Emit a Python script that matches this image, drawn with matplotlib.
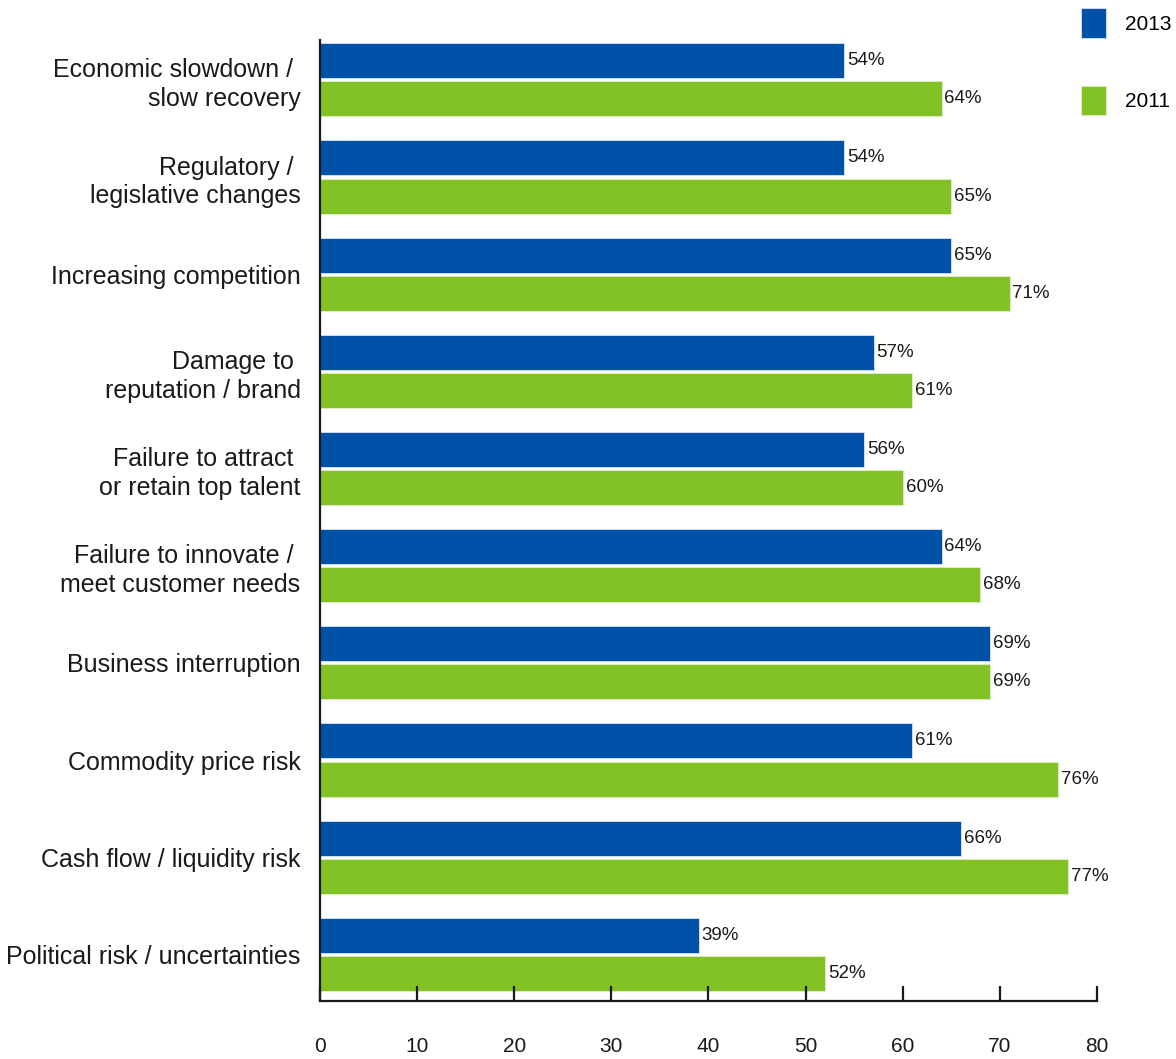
import matplotlib
matplotlib.use('Agg')
from matplotlib import pyplot as plt
import numpy as np

### Data
categories = [
	'Economic slowdown / \nslow recovery',
	'Regulatory / \nlegislative changes',
	'Increasing competition',
	'Damage to \nreputation / brand',
	'Failure to attract \nor retain top talent',
	'Failure to innovate / \nmeet customer needs',
	'Business interruption',
	'Commodity price risk',
	'Cash flow / liquidity risk',
	'Political risk / uncertainties',
]
vals_2013 = [54, 54, 65, 57, 56, 64, 69, 61, 66, 39]
vals_2011 = [64, 65, 71, 61, 60, 68, 69, 76, 77, 52]
xticks = [0, 10, 20, 30, 40, 50, 60, 70, 80]

plt.rcParams['font.family'] = ['Liberation Sans', 'DejaVu Sans']

blue = '#0052A8'
green = '#82C224'
txt = '#1a1a1a'

fig = plt.figure(figsize=(11.76, 10.59), dpi=100)
ax = fig.add_axes([0.2721, 0.0548, 0.6607, 0.9074])

y = np.arange(len(categories))
h = 0.36
off = 0.196
b1 = ax.barh(y - off, vals_2013, height=h, color=blue, edgecolor='#d8e4f0', linewidth=0.6, label='2013')
b2 = ax.barh(y + off, vals_2011, height=h, color=green, edgecolor='#e0efc8', linewidth=0.6, label='2011')

# Value labels at bar ends
for yi, v in zip(y - off, vals_2013):
	ax.text(v + 0.3, yi, f'{v}%', va='center', ha='left', fontsize=13.5, color=txt)
for yi, v in zip(y + off, vals_2011):
	ax.text(v + 0.3, yi, f'{v}%', va='center', ha='left', fontsize=13.5, color=txt)

ax.set_xlim(0, 80)
ax.set_ylim(9.48, -0.41)
ax.set_xticks(xticks)
ax.set_xticklabels([str(t) for t in xticks], fontsize=15, color=txt)
ax.set_yticks(y)
ax.set_yticklabels(categories, fontsize=18, color=txt, linespacing=1.25)

ax.tick_params(axis='y', length=0, pad=14)
ax.tick_params(axis='x', direction='in', length=11, width=1.6, pad=26, color=txt)

ax.spines['top'].set_visible(False)
ax.spines['right'].set_visible(False)
ax.spines['left'].set_linewidth(1.6)
ax.spines['bottom'].set_linewidth(1.6)
ax.spines['left'].set_color(txt)
ax.spines['bottom'].set_color(txt)

fig.legend(handles=[b1, b2], labels=['2013', '2011'], loc='upper right',
	bbox_to_anchor=(1.012, 1.01), frameon=False, fontsize=15,
	handlelength=1.2, handleheight=1.8, handletextpad=0.9, labelspacing=2.3)

plt.savefig('out.png', dpi=100)
